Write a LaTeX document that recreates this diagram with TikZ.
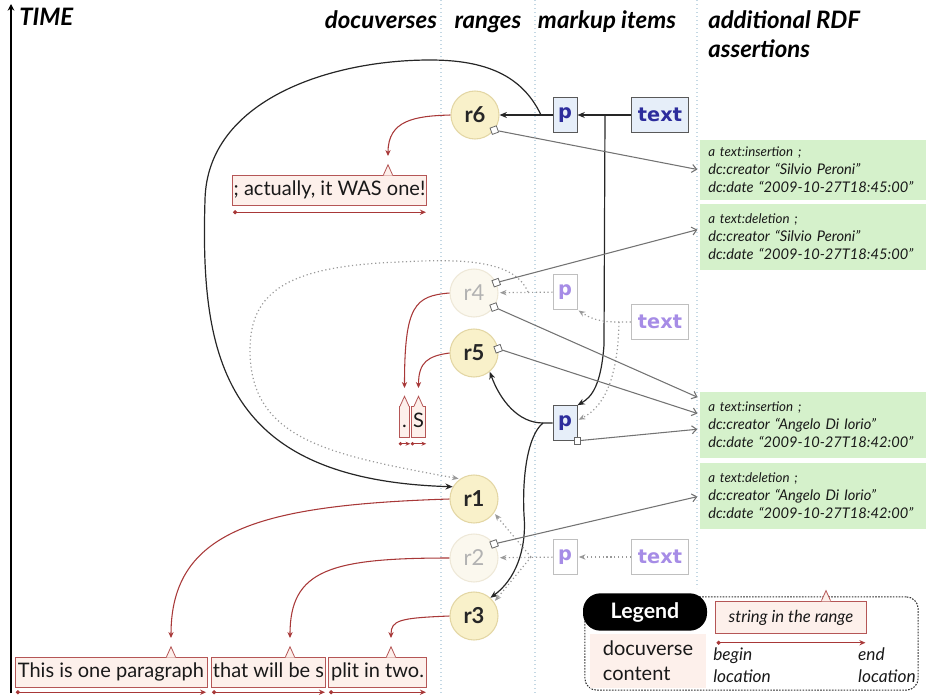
\documentclass[tikz,border=0pt]{standalone}
\usepackage{fontspec}
\setmainfont{Lato}
\newfontfamily\markfont{DejaVu Sans}
\usetikzlibrary{arrows.meta,calc}

\definecolor{rangefill}{HTML}{F9F1CA}
\definecolor{rangeedge}{HTML}{E3D6A4}
\definecolor{fadefill}{HTML}{FBF8EE}
\definecolor{fadeedge}{HTML}{EEE8D8}
\definecolor{markblue}{HTML}{2C2C9C}
\definecolor{markfill}{HTML}{E6EEF9}
\definecolor{fadeblue}{HTML}{A68CE6}
\definecolor{rdfgreen}{HTML}{D5F1CB}
\definecolor{docred}{HTML}{A83838}
\definecolor{docpink}{HTML}{FDF0EB}
\definecolor{guideblue}{HTML}{C4D8E4}

\newcommand\docnotch[2]{%
  \begin{scope}[shift={(#2,0 |- #1.north)}]
    \fill[docpink] (-4.5,0.8) -- (0,-10) -- (4.5,0.8) -- cycle;
    \draw[docred!85, line width=0.6pt] (-4.5,0) -- (0,-10) -- (4.5,0);
  \end{scope}}

\begin{document}
\begin{tikzpicture}[x=0.75pt, y=-0.75pt,
  heading/.style={font=\fontsize{18}{22}\selectfont\bfseries\itshape, text height=13pt, text depth=4pt, inner sep=0pt},
  rangecirc/.style={circle, draw=rangeedge, line width=0.8pt, fill=rangefill, minimum size=36pt, inner sep=0pt, font=\fontsize{16.5}{19}\selectfont\bfseries, text=black!85},
  faderange/.style={rangecirc, draw=fadeedge, fill=fadefill, text=black!30, font=\fontsize{16.5}{19}\selectfont},
  handle/.style={draw=black!60, fill=white, minimum size=5pt, inner sep=0pt, rotate=20, line width=0.6pt},
  markup/.style={draw=black!65, fill=markfill, text=markblue, font=\markfont\fontsize{14.5}{17}\selectfont\bfseries, minimum height=26pt, inner sep=2pt, line width=0.7pt},
  fademarkup/.style={markup, draw=black!25, fill=white, text=fadeblue},
  rdf/.style={fill=rdfgreen, text width=157pt, inner xsep=6pt, align=left, anchor=west, font=\fontsize{11}{13.5}\selectfont\itshape, text=black!90},
  docbox/.style={draw=docred!85, fill=docpink, line width=0.6pt, inner sep=0pt, minimum height=23pt, text height=11pt, text depth=3.5pt, font=\fontsize{15}{18}\selectfont, text=black!90},
  rangeline/.style={docred, line width=0.8pt, {Circle[length=3pt]}-{Stealth[length=4.5pt,width=4pt]}},
  docarrow/.style={docred, line width=0.8pt, -{Stealth[length=4.5pt,width=4pt]}},
  flow/.style={black!85, line width=0.9pt, -{Stealth[length=5.5pt,width=4.5pt]}},
  fadeflow/.style={black!40, dotted, line width=0.9pt, -{Stealth[length=5pt,width=4pt]}, shorten >=1pt},
  assert/.style={black!55, line width=0.8pt, -{Straight Barb[length=3.5pt,width=6pt]}, shorten >=2pt},
  guide/.style={guideblue, dotted, line width=1pt},
  legendtag/.style={fill=black, text=white, rounded corners=13pt, minimum width=93pt, minimum height=28pt, font=\fontsize{16}{19}\selectfont\bfseries},
  legnote/.style={align=left, inner sep=0pt, font=\fontsize{13}{17}\selectfont\itshape, text=black!90}]
\useasboundingbox (0,0) rectangle (929,696);

\draw[guide] (441,0) -- (441,696);
\draw[guide] (535,0) -- (535,696);
\draw[guide] (697,0) -- (697,588);

\coordinate (t0) at (11,693);
\coordinate (t1) at (11,4);
\draw[line width=1.4pt, -{Stealth[length=5pt,width=5pt]}] (t0) -- (t1);

\node[heading, anchor=west] (time) at (19,20) {TIME};
\node[heading] (hdocu) at (381,22) {docuverses};
\node[heading] (hrange) at (488,22) {ranges};
\node[heading] (hmark) at (607,22) {markup items};
\node[heading, anchor=north west, align=left, text height=, text depth=] (hrdf) at (708,10) {additional RDF\\assertions};

\node[rangecirc] (r6) at (475,115) {r6};
\node[faderange] (r4) at (474,293) {r4};
\node[rangecirc] (r5) at (474,353) {r5};
\node[rangecirc] (r1) at (474,499) {r1};
\node[faderange] (r2) at (474,558) {r2};
\node[rangecirc] (r3) at (474,616) {r3};

\node[handle] (h6) at (r6.-38) {};
\node[handle] (h4a) at (r4.25) {};
\node[handle] (h4b) at (r4.-35) {};
\node[handle] (h5) at (r5.10) {};
\node[handle] (h2) at (r2.35) {};

\node[markup, minimum width=18pt] (p6) at (565,115) {p};
\node[markup, minimum width=43pt] (text6) at (660,115) {text};
\node[fademarkup, minimum width=18pt] (p4) at (565,292) {p};
\node[fademarkup, minimum width=43pt] (text4) at (660,322) {text};
\node[markup, minimum width=18pt] (p5) at (565,423) {p};
\node[handle, rotate=-20] (hp5) at (p5.south east) {};
\node[fademarkup, minimum width=18pt] (p2) at (565,557) {p};
\node[fademarkup, minimum width=43pt] (text2) at (660,557) {text};

\node[rdf, minimum height=45pt] (g1) at (700,170) {{\fontsize{10}{13.5}\selectfont a text:insertion ;}\\dc:creator “Silvio Peroni”\\dc:date “2009-10-27T18:45:00”};
\node[rdf, minimum height=49pt] (g2) at (700,237) {{\fontsize{10}{13.5}\selectfont a text:deletion ;}\\dc:creator “Silvio Peroni”\\dc:date “2009-10-27T18:45:00”};
\node[rdf, minimum height=49pt] (g3) at (700,425) {{\fontsize{10}{13.5}\selectfont a text:insertion ;}\\dc:creator “Angelo Di Iorio”\\dc:date “2009-10-27T18:42:00”};
\node[rdf, minimum height=49pt] (g4) at (700,496) {{\fontsize{10}{13.5}\selectfont a text:deletion ;}\\dc:creator “Angelo Di Iorio”\\dc:date “2009-10-27T18:42:00”};

\node[docbox, minimum width=146pt] (d6) at (329.5,190.5) {; actually, it WAS one!};
\node[docbox, minimum width=8pt] (dA) at (404.5,422) {.};
\node[docbox, minimum width=11pt] (dB) at (418.5,422) {S};
\node[docbox, minimum width=144pt] (d1) at (111,672.5) {This is one paragraph};
\node[docbox, minimum width=86pt] (d2) at (268.5,672.5) {that will be s};
\node[docbox, minimum width=74pt] (d3) at (377.5,672.5) {plit in two.};
\docnotch{d6}{388}
\docnotch{dA}{404.5}
\docnotch{dB}{418.5}
\docnotch{d1}{171}
\docnotch{d2}{290}
\docnotch{d3}{391}

\coordinate (t6) at (388,156);
\coordinate (tA) at (404.5,388);
\coordinate (tB) at (418.5,388);
\coordinate (t1) at (171,638);
\coordinate (t2) at (290,638);
\coordinate (t3) at (391,638);

\draw[rangeline] ([xshift=1pt,yshift=-4.5pt]d6.south west) -- ([xshift=-1pt,yshift=-4.5pt]d6.south east);
\draw[rangeline, {Circle[length=2.5pt]}-{Stealth[length=3.5pt,width=3pt]}] ([yshift=-4.5pt]dA.south west) -- ([yshift=-4.5pt]dA.south east);
\draw[rangeline, {Circle[length=2.5pt]}-{Stealth[length=3.5pt,width=3pt]}] ([yshift=-4.5pt]dB.south west) -- ([yshift=-4.5pt]dB.south east);
\draw[rangeline] ([xshift=1pt,yshift=-3pt]d1.south west) -- ([xshift=-1pt,yshift=-3pt]d1.south east);
\draw[rangeline] ([xshift=1pt,yshift=-3pt]d2.south west) -- ([xshift=-1pt,yshift=-3pt]d2.south east);
\draw[rangeline] ([xshift=1pt,yshift=-3pt]d3.south west) -- ([xshift=-1pt,yshift=-3pt]d3.south east);

\draw[docarrow] (r6.west) .. controls (415,116) and (388,120) .. (t6);
\draw[docarrow] (r4.west) .. controls (415,296) and (404.5,305) .. (tA);
\draw[docarrow] (r5.west) .. controls (428,356) and (418.5,362) .. (tB);
\draw[docarrow] (r1.west) .. controls (260,505) and (171,530) .. (t1);
\draw[docarrow] (r2.west) .. controls (330,558) and (290,570) .. (t2);
\draw[docarrow] (r3.west) .. controls (400,618) and (391,620) .. (t3);

\coordinate (ft) at (605,115);
\coordinate (f6) at (541,115);
\coordinate (f5) at (543,423);
\coordinate (f4) at (619,322);
\coordinate (f4c) at (528,292);
\coordinate (f2) at (531,557);

\draw[flow] (text6) -- (p6);
\draw[flow] (p6) -- (r6);
\draw[flow] (ft) -- (604,345) .. controls (601,385) and (592,397) .. (p5.north east);
\draw[flow] (f6) .. controls (522,75) and (485,60) .. (430,60) .. controls (330,60) and (207,100) .. (205,200) .. controls (200,360) and (225,480) .. (r1.150);
\draw[flow] (p5) -- (f5) .. controls (518,423) and (500,400) .. (r5.-50);
\draw[flow] (f5) .. controls (528,435) and (522,475) .. (524,515) .. controls (527,550) and (515,580) .. (r3.48);

\draw[fadeflow] (p4) -- (r4);
\draw[fadeflow] (f4c) .. controls (515,262) and (470,258) .. (400,262) .. controls (290,266) and (250,290) .. (250,350) .. controls (250,440) and (330,455) .. (r1.125);
\draw[fadeflow] (text4) -- (f4) .. controls (598,322) and (590,318) .. (p4.south east);
\draw[fadeflow] (f4) .. controls (618,370) and (608,405) .. (p5.12);
\draw[fadeflow] (text2) -- (p2);
\draw[fadeflow] (p2) -- (r2);
\draw[fadeflow] (f2) -- (r1.-35);
\draw[fadeflow] (f2) -- (r3.35);

\draw[assert] (h6) -- (g1.west);
\draw[assert] (h4a) -- ([yshift=6pt]g2.west);
\draw[assert] (h4b) -- ([yshift=20pt]g3.west);
\draw[assert] (h5) -- ([yshift=8pt]g3.west);
\draw[assert] (hp5) -- ([yshift=-3pt]g3.west);
\draw[assert] (h2) -- (g4.west);

\node[draw=black!80, dash pattern=on 1.2pt off 1pt, line width=0.8pt, rounded corners=9pt, minimum width=250pt, minimum height=70pt] (legframe) at (751.5,643.5) {};
\node[fill=docpink, minimum width=87pt, minimum height=41pt, align=left, font=\fontsize{15}{19}\selectfont, text=black!90] (legdoc) at (648,661) {docuverse\\content};
\node[legendtag] (legtag) at (645,612) {Legend};
\node[docbox, minimum width=113pt, minimum height=24pt, font=\fontsize{12.5}{15}\selectfont\itshape] (legstr) at (791,617) {string in the range};
\docnotch{legstr}{826}
\draw[rangeline] ([xshift=1pt,yshift=-7pt]legstr.south west) -- ([xshift=-1pt,yshift=-7pt]legstr.south east);
\node[legnote, anchor=north west] (legbegin) at (713,647) {begin\\location};
\node[legnote, anchor=north east] (legendloc) at (916,647) {end\\location};
\end{tikzpicture}
\end{document}
